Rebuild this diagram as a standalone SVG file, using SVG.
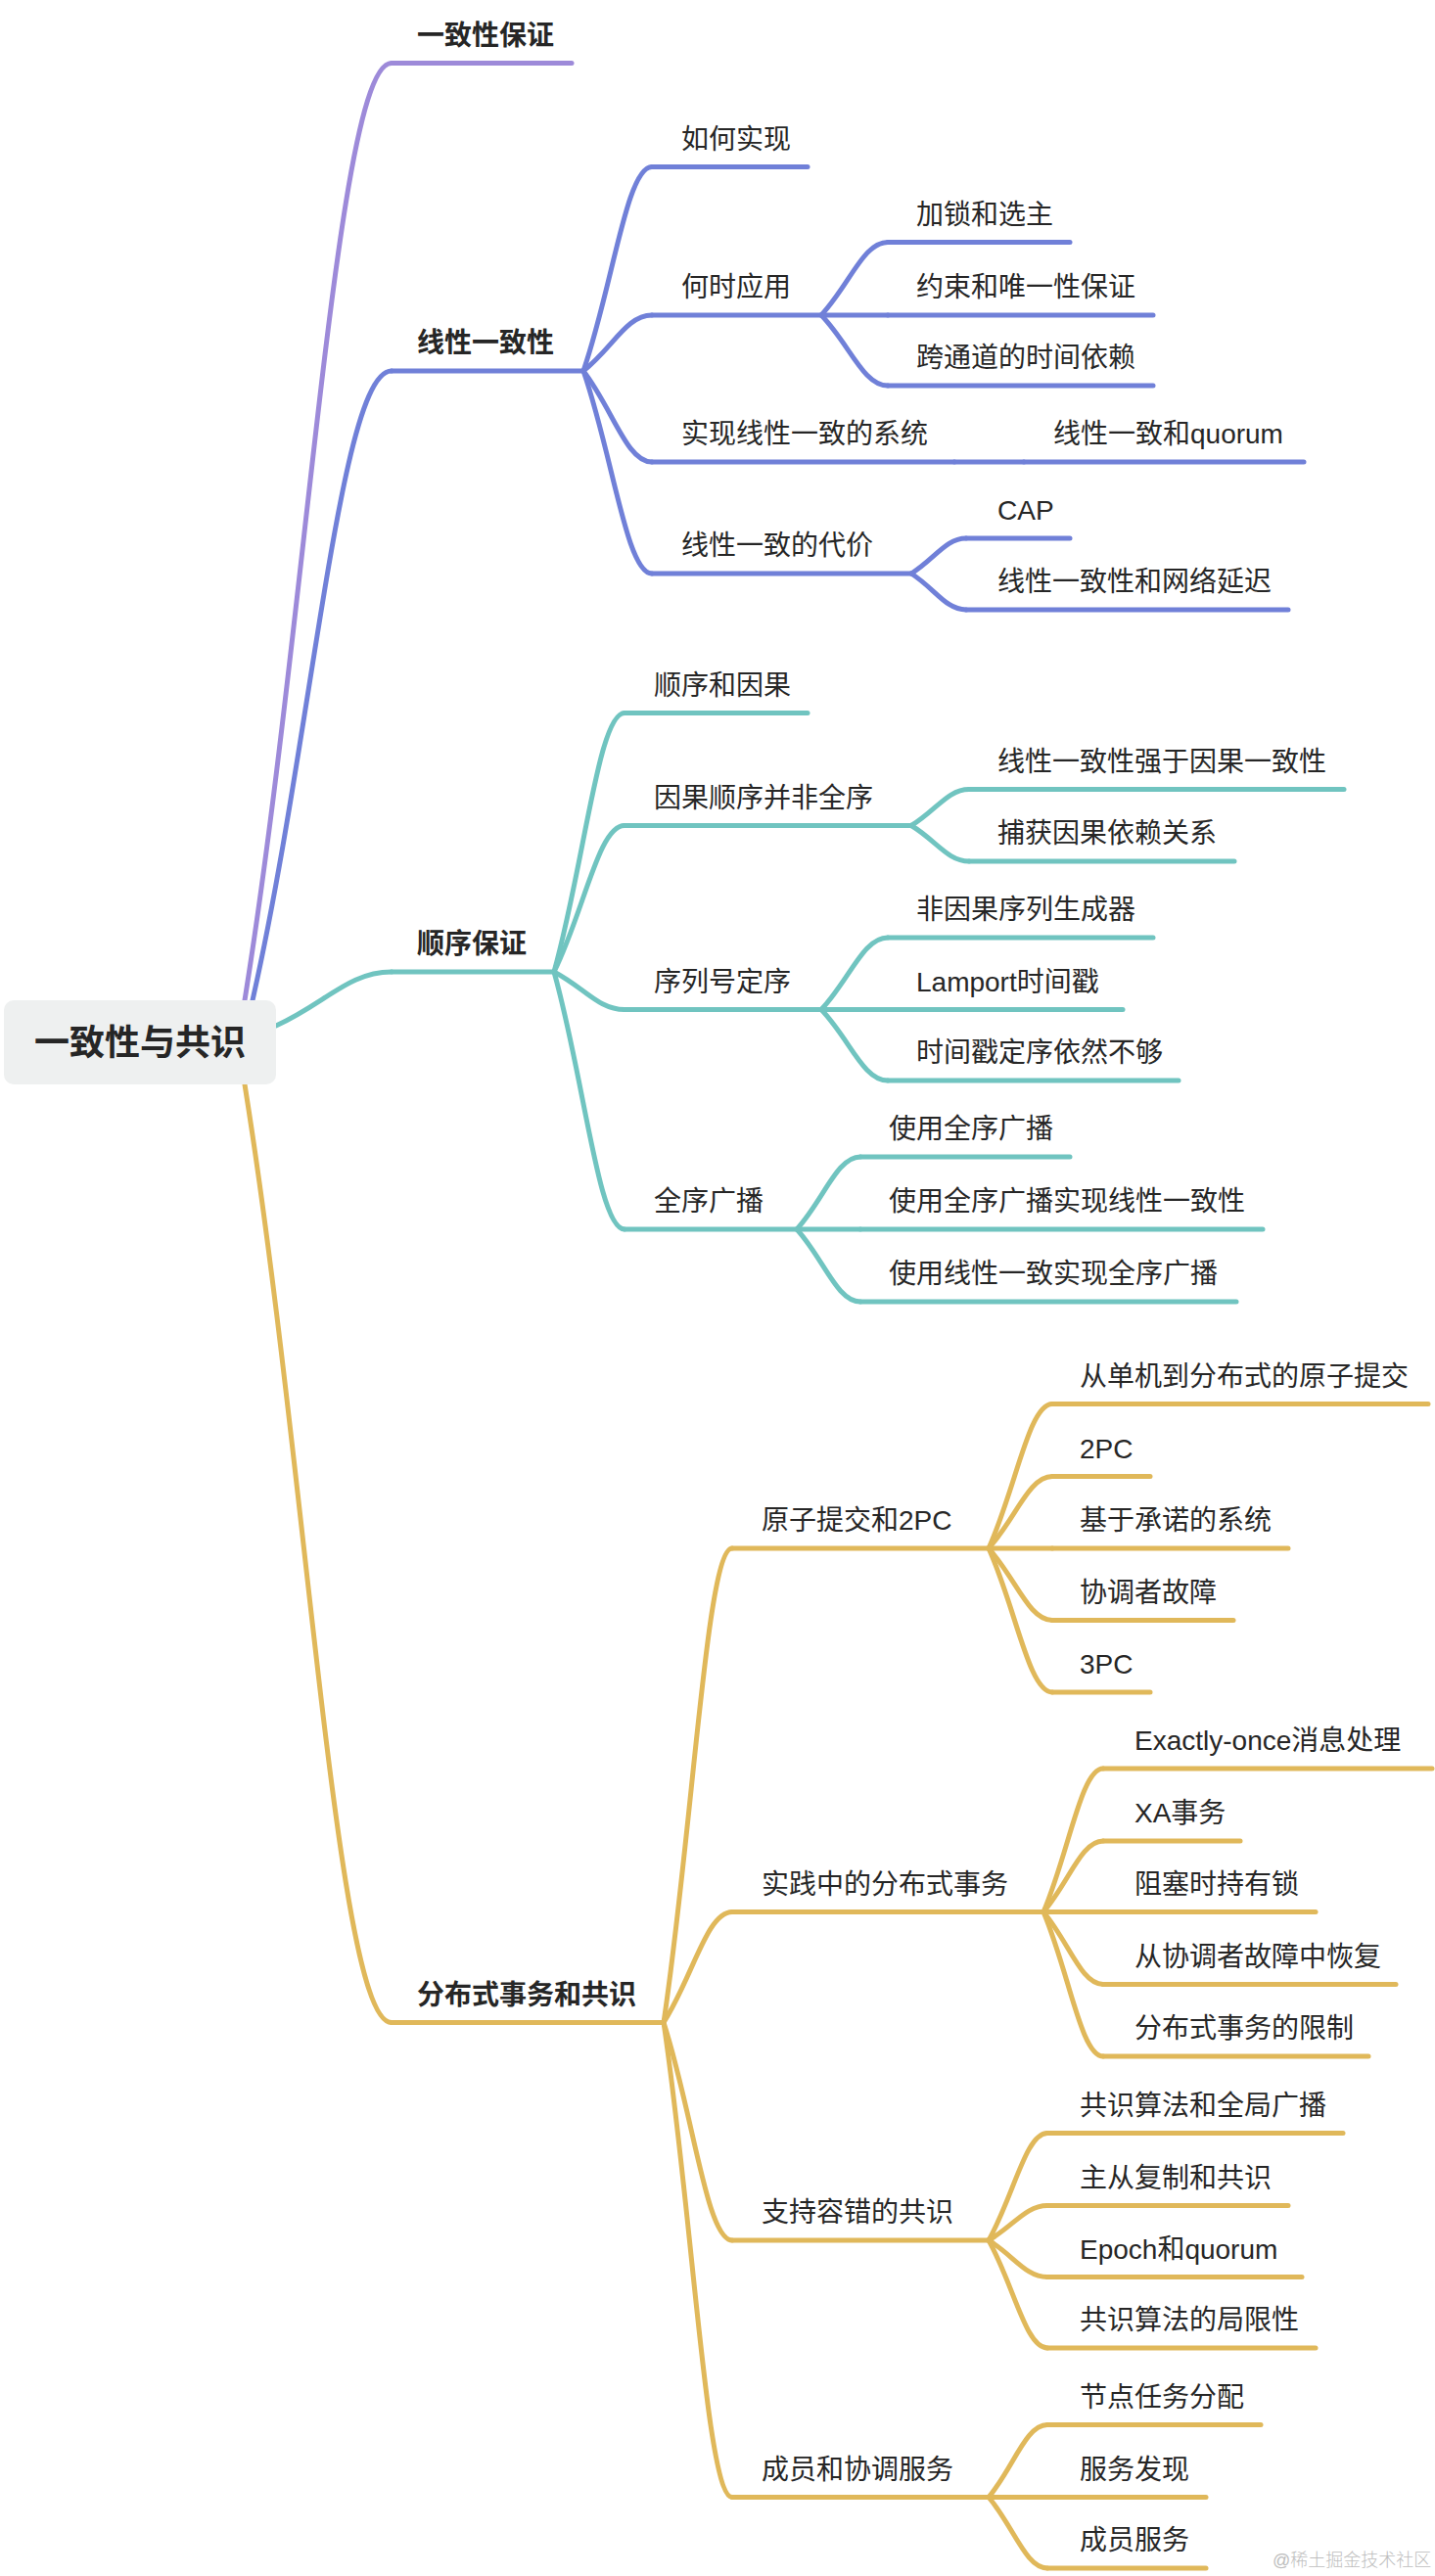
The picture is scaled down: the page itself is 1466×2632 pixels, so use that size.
<svg xmlns="http://www.w3.org/2000/svg" width="1466" height="2632" viewBox="0 0 1466 2632">
<style>
text{font-family:"Liberation Sans","Noto Sans CJK SC",sans-serif;fill:#262626;font-size:28px}
.t1{font-weight:bold}
.root{font-weight:bold;font-size:36px}
.wm{font-size:18px;fill:#bdbdbd;font-weight:300}
path,line{fill:none;stroke-width:5;stroke-linecap:round}
.p{stroke:#9d8ad9}
.b{stroke:#7080d8}
.c{stroke:#70c4c0}
.g{stroke:#e0b85a}
</style>
<rect width="1466" height="2632" fill="#ffffff"/>
<g id="connectors">
<path class="p" d="M250,1022 C314.5,619.8 344.5,64.5 400,64.5"/>
<path class="b" d="M258,1022 C319.1,752 347.5,379 400,379"/>
<path class="c" d="M282,1048 C332.7,1024.9 356.3,993 400,993"/>
<path class="g" d="M250,1108 C314.5,1510.6 344.5,2066.5 400,2066.5"/>
<path class="b" d="M596,379 C626.1,291.4 640.1,170.5 666,170.5"/>
<path class="b" d="M596,379 C626.1,355.1 640.1,322 666,322"/>
<path class="b" d="M596,379 C626.1,418.1 640.1,472 666,472"/>
<path class="b" d="M596,379 C626.1,466 640.1,586 666,586"/>
<path class="b" d="M839,322 C868.2,290.7 881.8,247.5 907,247.5"/>
<path class="b" d="M839,322 L907,322"/>
<path class="b" d="M839,322 C868.2,352.2 881.8,394 907,394"/>
<path class="b" d="M975,472 L1046,472"/>
<path class="b" d="M931,586 C955.1,570.9 966.3,550 987,550"/>
<path class="b" d="M931,586 C955.1,601.5 966.3,623 987,623"/>
<path class="c" d="M566,993 C597,881.9 611.4,728.5 638,728.5"/>
<path class="c" d="M566,993 C597,930.2 611.4,843.5 638,843.5"/>
<path class="c" d="M566,993 C597,1009.2 611.4,1031.5 638,1031.5"/>
<path class="c" d="M566,993 C597,1103.5 611.4,1256 638,1256"/>
<path class="c" d="M931,843.5 C956.4,828 968.2,806.5 990,806.5"/>
<path class="c" d="M931,843.5 C956.4,858.8 968.2,880 990,880"/>
<path class="c" d="M839,1031.5 C868.2,1000.6 881.8,958 907,958"/>
<path class="c" d="M839,1031.5 L907,1031.5"/>
<path class="c" d="M839,1031.5 C868.2,1062 881.8,1104 907,1104"/>
<path class="c" d="M814,1256 C842,1224.9 855,1182 879,1182"/>
<path class="c" d="M814,1256 L879,1256"/>
<path class="c" d="M814,1256 C842,1287.1 855,1330 879,1330"/>
<path class="g" d="M678,2066.5 C708.1,1863 722.1,1582 748,1582"/>
<path class="g" d="M678,2066.5 C708.1,2019 722.1,1953.5 748,1953.5"/>
<path class="g" d="M678,2066.5 C708.1,2160 722.1,2289 748,2289"/>
<path class="g" d="M678,2066.5 C708.1,2270.2 722.1,2551.5 748,2551.5"/>
<path class="g" d="M1010,1582 C1038,1520 1051,1434.5 1075,1434.5"/>
<path class="g" d="M1010,1582 C1038,1551.1 1051,1508.5 1075,1508.5"/>
<path class="g" d="M1010,1582 L1075,1582"/>
<path class="g" d="M1010,1582 C1038,1612.9 1051,1655.5 1075,1655.5"/>
<path class="g" d="M1010,1582 C1038,1643.7 1051,1729 1075,1729"/>
<path class="g" d="M1066,1953.5 C1092.2,1892 1104.4,1807 1127,1807"/>
<path class="g" d="M1066,1953.5 C1092.2,1923 1104.4,1881 1127,1881"/>
<path class="g" d="M1066,1953.5 L1127,1953.5"/>
<path class="g" d="M1066,1953.5 C1092.2,1984.6 1104.4,2027.5 1127,2027.5"/>
<path class="g" d="M1066,1953.5 C1092.2,2015.5 1104.4,2101 1127,2101"/>
<path class="g" d="M1010,2289 C1035.8,2243 1047.8,2179.5 1070,2179.5"/>
<path class="g" d="M1010,2289 C1035.8,2274.1 1047.8,2253.5 1070,2253.5"/>
<path class="g" d="M1010,2289 C1035.8,2304.8 1047.8,2326.5 1070,2326.5"/>
<path class="g" d="M1010,2289 C1035.8,2335.2 1047.8,2399 1070,2399"/>
<path class="g" d="M1010,2551.5 C1035.8,2520.4 1047.8,2477.5 1070,2477.5"/>
<path class="g" d="M1010,2551.5 L1070,2551.5"/>
<path class="g" d="M1010,2551.5 C1035.8,2582 1047.8,2624 1070,2624"/>
</g>
<g id="root">
<rect x="4" y="1022" width="278" height="86" rx="10" fill="#eef0f0"/>
<text class="root" x="143" y="1078" text-anchor="middle">一致性与共识</text>
</g>
<g id="n-yzxbz"><line class="p" x1="400" y1="64.5" x2="584" y2="64.5"/><text class="t1" x="426" y="45.5">一致性保证</text></g>
<g id="n-xxyzx"><line class="b" x1="400" y1="379" x2="596" y2="379"/><text class="t1" x="426" y="360">线性一致性</text></g>
<g id="n-sxbz"><line class="c" x1="400" y1="993" x2="566" y2="993"/><text class="t1" x="426" y="974">顺序保证</text></g>
<g id="n-fbssw"><line class="g" x1="400" y1="2066.5" x2="678" y2="2066.5"/><text class="t1" x="426" y="2047.5">分布式事务和共识</text></g>

<g id="n-hhsx"><line class="b" x1="666" y1="170.5" x2="825" y2="170.5"/><text x="696" y="151.5">如何实现</text></g>
<g id="n-hsyy"><line class="b" x1="666" y1="322" x2="839" y2="322"/><text x="696" y="303">何时应用</text></g>
<g id="n-jshxz"><line class="b" x1="907" y1="247.5" x2="1093" y2="247.5"/><text x="936" y="228.5">加锁和选主</text></g>
<g id="n-ysh"><line class="b" x1="907" y1="322" x2="1178" y2="322"/><text x="936" y="303">约束和唯一性保证</text></g>
<g id="n-ktd"><line class="b" x1="907" y1="394" x2="1178" y2="394"/><text x="936" y="375">跨通道的时间依赖</text></g>
<g id="n-sxxt"><line class="b" x1="666" y1="472" x2="975" y2="472"/><text x="696" y="453">实现线性一致的系统</text></g>
<g id="n-quorum"><line class="b" x1="1046" y1="472" x2="1332" y2="472"/><text x="1076" y="453">线性一致和quorum</text></g>
<g id="n-dj"><line class="b" x1="666" y1="586" x2="931" y2="586"/><text x="696" y="567">线性一致的代价</text></g>
<g id="n-cap"><line class="b" x1="987" y1="550" x2="1093" y2="550"/><text x="1019" y="531">CAP</text></g>
<g id="n-wlyc"><line class="b" x1="987" y1="623" x2="1316" y2="623"/><text x="1019" y="604">线性一致性和网络延迟</text></g>

<g id="n-sxhyg"><line class="c" x1="638" y1="728.5" x2="825" y2="728.5"/><text x="668" y="709.5">顺序和因果</text></g>
<g id="n-ygsx"><line class="c" x1="638" y1="843.5" x2="931" y2="843.5"/><text x="668" y="824.5">因果顺序并非全序</text></g>
<g id="n-qy"><line class="c" x1="990" y1="806.5" x2="1373" y2="806.5"/><text x="1019" y="787.5">线性一致性强于因果一致性</text></g>
<g id="n-bh"><line class="c" x1="990" y1="880" x2="1261" y2="880"/><text x="1019" y="861">捕获因果依赖关系</text></g>
<g id="n-xlh"><line class="c" x1="638" y1="1031.5" x2="839" y2="1031.5"/><text x="668" y="1012.5">序列号定序</text></g>
<g id="n-fyg"><line class="c" x1="907" y1="958" x2="1178" y2="958"/><text x="936" y="939">非因果序列生成器</text></g>
<g id="n-lamport"><line class="c" x1="907" y1="1031.5" x2="1147" y2="1031.5"/><text x="936" y="1012.5">Lamport时间戳</text></g>
<g id="n-sjc"><line class="c" x1="907" y1="1104" x2="1204" y2="1104"/><text x="936" y="1085">时间戳定序依然不够</text></g>
<g id="n-qxgb"><line class="c" x1="638" y1="1256" x2="814" y2="1256"/><text x="668" y="1237">全序广播</text></g>
<g id="n-syqx"><line class="c" x1="879" y1="1182" x2="1093" y2="1182"/><text x="908" y="1163">使用全序广播</text></g>
<g id="n-syqxsx"><line class="c" x1="879" y1="1256" x2="1290" y2="1256"/><text x="908" y="1237">使用全序广播实现线性一致性</text></g>
<g id="n-syxx"><line class="c" x1="879" y1="1330" x2="1263" y2="1330"/><text x="908" y="1311">使用线性一致实现全序广播</text></g>

<g id="n-yztj"><line class="g" x1="748" y1="1582" x2="1010" y2="1582"/><text x="778" y="1563">原子提交和2PC</text></g>
<g id="n-cdj"><line class="g" x1="1075" y1="1434.5" x2="1459" y2="1434.5"/><text x="1103" y="1415.5">从单机到分布式的原子提交</text></g>
<g id="n-2pc"><line class="g" x1="1075" y1="1508.5" x2="1175" y2="1508.5"/><text x="1103" y="1489.5">2PC</text></g>
<g id="n-jycn"><line class="g" x1="1075" y1="1582" x2="1316" y2="1582"/><text x="1103" y="1563">基于承诺的系统</text></g>
<g id="n-xtzgz"><line class="g" x1="1075" y1="1655.5" x2="1260" y2="1655.5"/><text x="1103" y="1636.5">协调者故障</text></g>
<g id="n-3pc"><line class="g" x1="1075" y1="1729" x2="1175" y2="1729"/><text x="1103" y="1710">3PC</text></g>
<g id="n-sjz"><line class="g" x1="748" y1="1953.5" x2="1066" y2="1953.5"/><text x="778" y="1934.5">实践中的分布式事务</text></g>
<g id="n-eo"><line class="g" x1="1127" y1="1807" x2="1463" y2="1807"/><text x="1159" y="1788">Exactly-once消息处理</text></g>
<g id="n-xa"><line class="g" x1="1127" y1="1881" x2="1267" y2="1881"/><text x="1159" y="1862">XA事务</text></g>
<g id="n-zs"><line class="g" x1="1127" y1="1953.5" x2="1344" y2="1953.5"/><text x="1159" y="1934.5">阻塞时持有锁</text></g>
<g id="n-hf"><line class="g" x1="1127" y1="2027.5" x2="1426" y2="2027.5"/><text x="1159" y="2008.5">从协调者故障中恢复</text></g>
<g id="n-xz"><line class="g" x1="1127" y1="2101" x2="1398" y2="2101"/><text x="1159" y="2082">分布式事务的限制</text></g>
<g id="n-rc"><line class="g" x1="748" y1="2289" x2="1010" y2="2289"/><text x="778" y="2270">支持容错的共识</text></g>
<g id="n-gsqj"><line class="g" x1="1070" y1="2179.5" x2="1372" y2="2179.5"/><text x="1103" y="2160.5">共识算法和全局广播</text></g>
<g id="n-zcfz"><line class="g" x1="1070" y1="2253.5" x2="1316" y2="2253.5"/><text x="1103" y="2234.5">主从复制和共识</text></g>
<g id="n-epoch"><line class="g" x1="1070" y1="2326.5" x2="1330" y2="2326.5"/><text x="1103" y="2307.5">Epoch和quorum</text></g>
<g id="n-jxx"><line class="g" x1="1070" y1="2399" x2="1344" y2="2399"/><text x="1103" y="2380">共识算法的局限性</text></g>
<g id="n-cyxt"><line class="g" x1="748" y1="2551.5" x2="1010" y2="2551.5"/><text x="778" y="2532.5">成员和协调服务</text></g>
<g id="n-jdrw"><line class="g" x1="1070" y1="2477.5" x2="1288" y2="2477.5"/><text x="1103" y="2458.5">节点任务分配</text></g>
<g id="n-fwfx"><line class="g" x1="1070" y1="2551.5" x2="1232" y2="2551.5"/><text x="1103" y="2532.5">服务发现</text></g>
<g id="n-cyfw"><line class="g" x1="1070" y1="2624" x2="1232" y2="2624"/><text x="1103" y="2605">成员服务</text></g>
<text class="wm" x="1300" y="2622">@稀土掘金技术社区</text>
</svg>
